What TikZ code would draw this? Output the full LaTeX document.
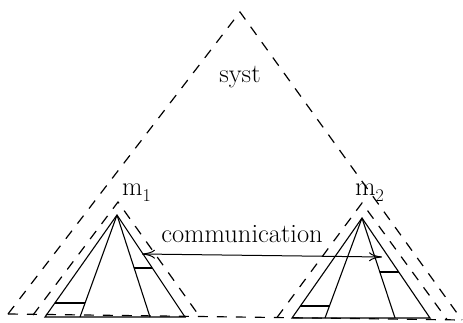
\documentclass[tikz,border=0pt]{standalone}
\usetikzlibrary{arrows.meta}
\begin{document}
\begin{tikzpicture}[x=1pt,y=-1pt,
  envline/.style={line width=1.2pt, dash pattern=on 10pt off 9pt},
  solidline/.style={line width=1.1pt},
  lbl/.style={inner sep=0pt, font=\fontsize{26.5}{30}\selectfont},
  comm/.style={line width=1pt, {To[length=13pt,width=9pt]}-{To[length=13pt,width=9pt]}}]
\useasboundingbox (0,0) rectangle (463,323);

% system envelope
\coordinate (sA) at (240,12);
\coordinate (sL) at (8,314);
\coordinate (sR) at (462,320);
\draw[envline] (sL) -- (sA) -- (sR);
\draw[envline] (sL) -- (sR);

% module envelopes
\coordinate (e1A) at (118,202);
\coordinate (e1L) at (33,315);
\coordinate (e1R) at (200,317);
\draw[envline] (e1L) -- (e1A) -- (e1R);
\coordinate (e2A) at (362,203);
\coordinate (e2L) at (277,317.5);
\coordinate (e2R) at (447,319.5);
\draw[envline] (e2L) -- (e2A) -- (e2R);

% pyramid 1
\coordinate (p1A) at (117,215);
\coordinate (p1L) at (45,317);
\coordinate (p1R) at (185,317);
\coordinate (p1a) at (80,317);
\coordinate (p1b) at (150,317);
\draw[solidline] (p1L) -- (p1A) -- (p1R) -- cycle;
\draw[solidline] (p1A) -- (p1a);
\draw[solidline] (p1A) -- (p1b);
\path (p1A) -- (p1L) coordinate[pos=0.863] (h1a);
\path (p1A) -- (p1a) coordinate[pos=0.863] (h1b);
\draw[solidline] (h1a) -- (h1b);
\path (p1A) -- (p1b) coordinate[pos=0.52] (h1c);
\path (p1A) -- (p1R) coordinate[pos=0.52] (h1d);
\draw[solidline] (h1c) -- (h1d);

% pyramid 2
\coordinate (p2A) at (362,218);
\coordinate (p2L) at (292,318);
\coordinate (p2R) at (430,318);
\coordinate (p2a) at (325,318);
\coordinate (p2b) at (395,318);
\draw[solidline] (p2L) -- (p2A) -- (p2R) -- cycle;
\draw[solidline] (p2A) -- (p2a);
\draw[solidline] (p2A) -- (p2b);
\path (p2A) -- (p2L) coordinate[pos=0.88] (h2a);
\path (p2A) -- (p2a) coordinate[pos=0.88] (h2b);
\draw[solidline] (h2a) -- (h2b);
\path (p2A) -- (p2b) coordinate[pos=0.54] (h2c);
\path (p2A) -- (p2R) coordinate[pos=0.54] (h2d);
\draw[solidline] (h2c) -- (h2d);

% communication
\coordinate (ca) at (142,254);
\coordinate (cb) at (382,257);
\draw[comm] (ca) -- (cb);

% labels
\node[lbl, anchor=base] (syst) at (240,83) {syst};
\node[lbl, anchor=base] (commtext) at (242,243) {communication};
\node[lbl, anchor=base west] (m1) at (122,196) {m\raisebox{-6pt}{\fontsize{18}{20}\selectfont 1}};
\node[lbl, anchor=base west] (m2) at (355,196) {m\raisebox{-6pt}{\fontsize{18}{20}\selectfont 2}};
\end{tikzpicture}
\end{document}
